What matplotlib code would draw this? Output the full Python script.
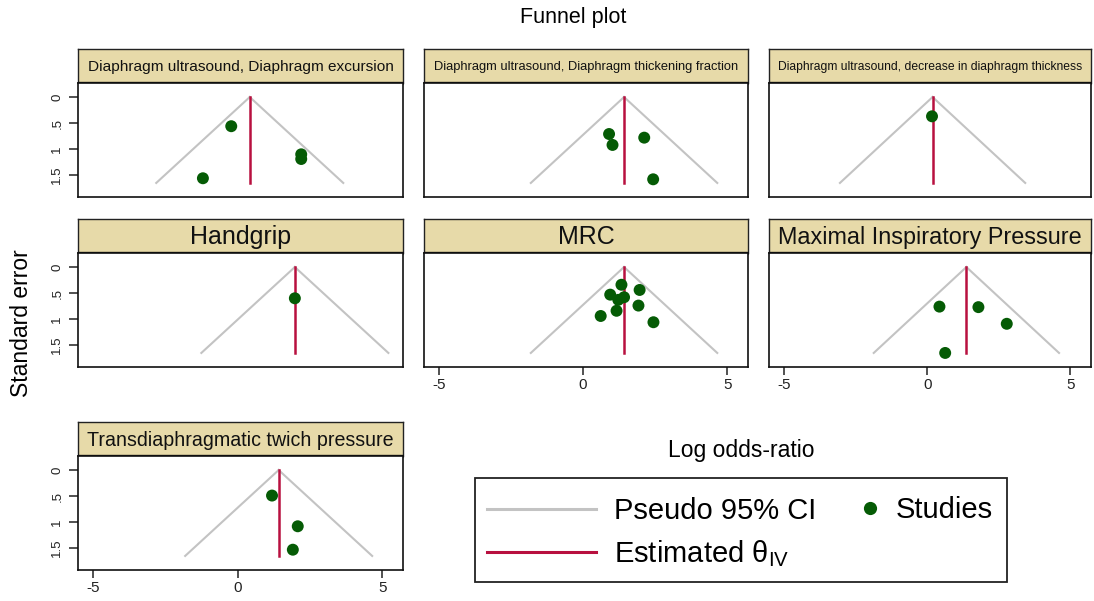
import numpy as np
import matplotlib
matplotlib.use('Agg')
from matplotlib import pyplot as plt
from matplotlib.lines import Line2D
from matplotlib.patches import Rectangle

plt.rcParams['font.family'] = ['Liberation Sans', 'DejaVu Sans']
plt.rcParams['mathtext.fontset'] = 'custom'
plt.rcParams['mathtext.rm'] = 'Liberation Sans'
plt.rcParams['mathtext.it'] = 'Liberation Sans:italic'

# outcomes, one panel each
outcomes = ['Diaphragm ultrasound, Diaphragm excursion',
            'Diaphragm ultrasound, Diaphragm thickening fraction',
            'Diaphragm ultrasound, decrease in diaphragm thickness',
            'Handgrip',
            'MRC',
            'Maximal Inspiratory Pressure',
            'Transdiaphragmatic twich pressure']

# study log odds-ratios
log_or = [[-0.22, 2.20, 2.20, -1.20],
          [0.90, 1.02, 2.12, 2.43],
          [0.17],
          [1.98],
          [1.33, 1.96, 0.94, 1.42, 1.22, 1.92, 1.16, 0.61, 2.44],
          [0.43, 1.79, 2.78, 0.63],
          [1.19, 2.08, 1.91]]

# study standard errors
std_err = [[0.56, 1.10, 1.19, 1.56],
           [0.71, 0.92, 0.78, 1.58],
           [0.37],
           [0.60],
           [0.34, 0.44, 0.53, 0.58, 0.63, 0.74, 0.84, 0.94, 1.06],
           [0.76, 0.77, 1.09, 1.65],
           [0.49, 1.08, 1.53]]

# inverse-variance estimate per outcome
theta_iv = [0.42, 1.42, 0.19, 1.98, 1.42, 1.37, 1.42]

x_ticks = [-5, 0, 5]
y_ticks = [0, 0.5, 1, 1.5]
y_ticklabels = ['0', '.5', '1', '1.5']

W, H = 1094, 601
col_x = [78, 424, 769]
col_w = [325, 324, 322]
row_top = [49, 219, 422]
head_h = 34
plot_h = 114

grid = [(0, 0), (0, 1), (0, 2), (1, 0), (1, 1), (1, 2), (2, 0)]
bottom_of_col = [6, 4, 5]

GRAY = '#c3c3c3'
RED = '#b8103f'
GREEN = '#055b05'
HEAD = '#e7daa9'

se_max = max(max(s) for s in std_err)

fig = plt.figure(figsize=(W / 100, H / 100), dpi=100)
fig.patch.set_facecolor('white')
renderer = fig.canvas.get_renderer()


def fig_rect(x, y_top, w, h):
  return [x / W, 1 - (y_top + h) / H, w / W, h / H]


def fit_title(ax, text, box_w, max_size=18.0):
  # shrink long outcome names so they fit in the strip
  t = ax.text(0.5, 0.47, text, ha='center', va='center', fontsize=max_size,
              color='#111111', transform=ax.transAxes)
  width = t.get_window_extent(renderer).width
  limit = 0.94 * box_w
  if width > limit:
    t.set_fontsize(max_size * limit / width)
  return t


for i, (r, c) in enumerate(grid):
  x0, w = col_x[c], col_w[c]
  top = row_top[r]

  # header strip
  hax = fig.add_axes(fig_rect(x0, top, w, head_h))
  hax.set_facecolor(HEAD)
  hax.set_xticks([])
  hax.set_yticks([])
  for s in hax.spines.values():
    s.set_linewidth(1.0)
    s.set_color('#222222')
  hax.spines['bottom'].set_linewidth(2.4)
  hax.spines['bottom'].set_color('black')
  hax.spines['bottom'].set_capstyle('butt')
  fit_title(hax, outcomes[i], w)

  # funnel panel
  ax = fig.add_axes(fig_rect(x0, top + head_h, w, plot_h))
  th = theta_iv[i]
  se_line = np.array([0, se_max])
  ax.plot(th - 1.96 * se_line, se_line, color=GRAY, lw=1.5, zorder=1)
  ax.plot(th + 1.96 * se_line, se_line, color=GRAY, lw=1.5, zorder=1)
  ax.plot([th, th], se_line, color=RED, lw=1.8, zorder=2)
  ax.scatter(log_or[i], std_err[i], s=74, color=GREEN, edgecolors='none', zorder=3)

  ax.set_xlim(-5.52, 5.72)
  ax.set_ylim(1.92, -0.27)
  for s in ax.spines.values():
    s.set_linewidth(1.2)
    s.set_color('#111111')

  if c == 0:
    ax.set_yticks(y_ticks)
    ax.set_yticklabels(y_ticklabels, rotation=90, va='center', fontsize=9.5)
    ax.tick_params(axis='y', length=6.5, width=1.1, pad=4, colors='#222222')
  else:
    ax.set_yticks([])

  if i in bottom_of_col:
    ax.set_xticks(x_ticks)
    ax.set_xticklabels([str(v) for v in x_ticks], fontsize=11)
    ax.tick_params(axis='x', length=6, width=1.1, pad=2, colors='#222222')
  else:
    ax.set_xticks([])

fig.text(573 / W, 1 - 18 / H, 'Funnel plot', ha='center', va='center', fontsize=15.5)
fig.text(22 / W, 1 - 323 / H, 'Standard error', ha='center', va='center',
         rotation=90, fontsize=16.5)
fig.text(741 / W, 1 - 450 / H, 'Log odds-ratio', ha='center', va='center', fontsize=16.5)

# legend box
fig.patches.append(Rectangle((475 / W, 1 - 582 / H), 532 / W, 104 / H,
                             transform=fig.transFigure, fill=False,
                             edgecolor='#222222', lw=1.3))
line_handles = [Line2D([], [], color=GRAY, lw=2.2),
                Line2D([], [], color=RED, lw=2.2)]
leg1 = fig.legend(line_handles, ['Pseudo 95% CI', r'Estimated θ$_{\mathrm{IV}}$'],
                  loc='center left', bbox_to_anchor=(487 / W, 1 - 533 / H),
                  frameon=False, fontsize=21, handlelength=3.74,
                  handletextpad=0.62, borderpad=0, borderaxespad=0,
                  labelspacing=0.45)
dot_handle = [Line2D([], [], ls='none', marker='o', markersize=9.5,
                     markerfacecolor=GREEN, markeredgecolor='none')]
leg2 = fig.legend(dot_handle, ['Studies'], loc='center left',
                  bbox_to_anchor=(861 / W, 1 - 510 / H), frameon=False,
                  fontsize=21, handlelength=0.6, handletextpad=0.59,
                  borderpad=0, borderaxespad=0)

fig.savefig('out.png', dpi=100, facecolor='white')
